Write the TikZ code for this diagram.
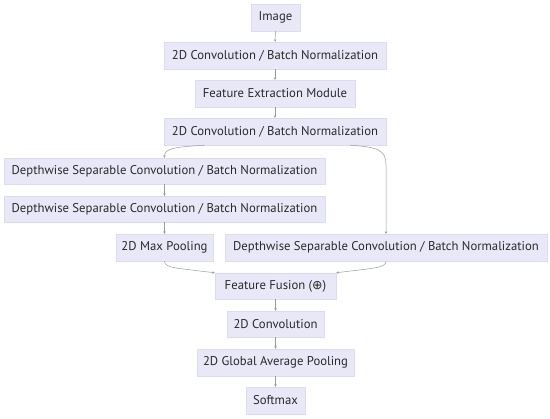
\documentclass[tikz,border=0pt]{standalone}
\usepackage{fontspec}
\setmainfont{PT Sans}
\newfontfamily\symfont{DejaVu Sans}
\usetikzlibrary{arrows.meta}
\definecolor{boxfill}{HTML}{E8E8F8}
\definecolor{boxline}{HTML}{DCDCF0}
\definecolor{txt}{HTML}{2A2A2A}
\definecolor{edgecol}{HTML}{9A9A9A}
\tikzset{
  box/.style={fill=boxfill, draw=boxline, line width=0.4pt, inner sep=0pt, text=txt,
    font=\fontsize{12.7}{14}\selectfont, anchor=center},
  edge/.style={draw=edgecol, line width=0.5pt, -{Stealth[length=2.5pt,width=2.5pt]}}
}
\begin{document}
\begin{tikzpicture}[x=1pt,y=-1pt]
\useasboundingbox[fill=white] (0,0) rectangle (550,419);
\node[box, minimum width=49, minimum height=27] (img) at (275.5,17.5) {Image};
\node[box, minimum width=222, minimum height=27] (cbn1) at (275,55.5) {2D Convolution / Batch Normalization};
\node[box, minimum width=160, minimum height=27] (fem) at (275,93.5) {Feature Extraction Module};
\node[box, minimum width=222, minimum height=27] (cbn2) at (275,131.5) {2D Convolution / Batch Normalization};
\node[box, minimum width=321, minimum height=26] (dsc1) at (164.5,171) {Depthwise Separable Convolution / Batch Normalization};
\node[box, minimum width=321, minimum height=26] (dsc2) at (164.5,209) {Depthwise Separable Convolution / Batch Normalization};
\node[box, minimum width=97, minimum height=27] (mp) at (164.5,247.5) {2D Max Pooling};
\node[box, minimum width=322, minimum height=27] (dsc3) at (386,247.5) {Depthwise Separable Convolution / Batch Normalization};
\node[box, minimum width=121, minimum height=26] (ff) at (275.5,286) {Feature Fusion ({\symfont\fontsize{12.5}{14}\selectfont ⊕})};
\node[box, minimum width=97, minimum height=26] (conv) at (275.5,324) {2D Convolution};
\node[box, minimum width=157, minimum height=27] (gap) at (275.5,362.5) {2D Global Average Pooling};
\node[box, minimum width=59, minimum height=27] (sm) at (275.5,400.5) {Softmax};

\draw[edge] (img) -- (cbn1);
\draw[edge] (cbn1) -- (fem);
\draw[edge] (fem) -- (cbn2);
\draw[edge] ([xshift=41]cbn2.south west) .. controls (172,147) and (164.5,149) .. (dsc1.north);
\draw[edge] ([xshift=-36]cbn2.south east) .. controls (378,147) and (386,150) .. (386,165) -- (dsc3.north);
\draw[edge] (dsc1) -- (dsc2);
\draw[edge] (dsc2) -- (mp);
\draw[edge] (mp.south) .. controls (164.5,268) and (176,268) .. (ff.north west);
\draw[edge] (dsc3.south) .. controls (386,268) and (374,268) .. (ff.north east);
\draw[edge] (ff) -- (conv);
\draw[edge] (conv) -- (gap);
\draw[edge] (gap) -- (sm);
\end{tikzpicture}
\end{document}
